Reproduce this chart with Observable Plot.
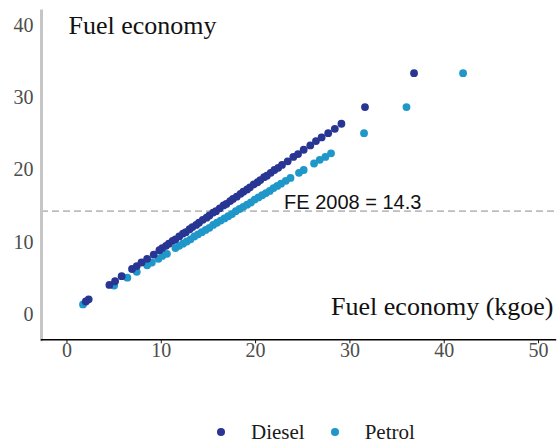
<!DOCTYPE html>
<html>
<head>
<meta charset="utf-8">
<script src="https://cdn.jsdelivr.net/npm/d3@7"></script>
<script src="https://cdn.jsdelivr.net/npm/@observablehq/plot@0.6"></script>
<style>
  body { margin: 0; background: #fff; }
  #wrap { position: relative; width: 560px; height: 443px; overflow: hidden; background: #fff; }
  #legend { position: absolute; left: 217px; top: 422px; height: 20px; display: flex; align-items: center;
            font-family: "Liberation Serif", serif; font-size: 21px; line-height: 20px; color: #1a1a1a; }
  #legend .dot { display: inline-block; width: 8px; height: 8px; border-radius: 50%; margin-right: 26px; }
  #legend .lab { margin-right: 26px; }
</style>
</head>
<body>
<div id="wrap"></div>
<script>
// ---- data ----
const fuels = ["Diesel", "Petrol"];
const fuelColors = ["#283593", "#1f97c9"];

const dieselKgoe = [2.0, 2.3, 4.5, 5.1, 5.8, 6.9, 7.4, 7.9, 8.5, 9.2, 9.8, 10.1, 10.5, 10.8, 11.2, 11.5, 11.9, 12.3, 12.6, 13.0,
  13.3, 13.7, 14.0, 14.4, 14.8, 15.1, 15.5, 15.8, 16.2, 16.6, 16.9, 17.3, 17.6, 18.0, 18.4, 18.7, 19.1, 19.4, 19.8, 20.2,
  20.5, 20.9, 21.2, 21.6, 22.0, 22.4, 22.8, 23.4, 24.0, 24.5, 25.1, 25.8, 26.4, 27.0, 27.7, 28.4, 29.1, 31.6, 36.8];
const dieselFE = [1.8, 2.1, 4.1, 4.6, 5.3, 6.3, 6.7, 7.2, 7.7, 8.3, 8.9, 9.2, 9.5, 9.8, 10.2, 10.4, 10.8, 11.2, 11.4, 11.8,
  12.1, 12.4, 12.7, 13.1, 13.4, 13.7, 14.1, 14.3, 14.7, 15.1, 15.3, 15.7, 16.0, 16.3, 16.7, 17.0, 17.3, 17.6, 18.0, 18.3,
  18.6, 19.0, 19.2, 19.6, 20.0, 20.3, 20.7, 21.2, 21.8, 22.2, 22.8, 23.4, 24.0, 24.5, 25.1, 25.7, 26.4, 28.7, 33.4];

const petrolKgoe = [1.7, 5.0, 6.4, 7.4, 8.5, 9.0, 9.7, 10.1, 10.6, 11.5, 11.9, 12.3, 12.7, 13.1, 13.5, 13.9, 14.3, 14.7, 15.1,
  15.5, 15.9, 16.3, 16.7, 17.1, 17.5, 17.9, 18.3, 18.7, 19.1, 19.5, 19.9, 20.3, 20.7, 21.1, 21.5, 21.9, 22.3, 22.7, 23.2,
  23.7, 24.6, 25.1, 26.2, 26.8, 27.4, 28.0, 31.5, 36.0, 42.0];
const petrolFE = [1.4, 4.0, 5.1, 5.9, 6.8, 7.2, 7.7, 8.1, 8.4, 9.2, 9.5, 9.8, 10.1, 10.4, 10.8, 11.1, 11.4, 11.7, 12.0,
  12.4, 12.7, 13.0, 13.3, 13.6, 13.9, 14.3, 14.6, 14.9, 15.2, 15.5, 15.9, 16.2, 16.5, 16.8, 17.1, 17.5, 17.8, 18.1, 18.5,
  18.9, 19.6, 20.0, 20.9, 21.4, 21.8, 22.3, 25.1, 28.7, 33.4];

const xTicks = [0, 10, 20, 30, 40, 50];
const yTicks = [0, 10, 20, 30, 40];
const fe2008 = 14.3;
const fe2008LabelX = 30.3;
const fe2008Label = "FE 2008 = 14.3";
const yTitle = "Fuel economy";
const xTitle = "Fuel economy (kgoe)";

// ---- table for the library ----
const petrol = petrolKgoe.map((k, i) => ({fuel: "Petrol", kgoe: k, fe: petrolFE[i]}));
const diesel = dieselKgoe.map((k, i) => ({fuel: "Diesel", kgoe: k, fe: dieselFE[i]}));
const points = [...petrol, ...diesel];

const H = 415;
const chart = Plot.plot({
  width: 560,
  height: H,
  marginLeft: 41,
  marginRight: 5,
  marginTop: 10.5,
  marginBottom: H - 339.3,
  style: {fontFamily: "'Liberation Serif', serif", fontSize: "20px", background: "#fff"},
  x: {domain: [-2.7, 51.8]},
  y: {domain: [-3.5, 42]},
  color: {domain: fuels, range: fuelColors},
  marks: [
    Plot.ruleY([fe2008], {stroke: "#bdbdbd", strokeWidth: 1.8, strokeDasharray: "7,4"}),
    Plot.frame({anchor: "left", stroke: "#c6c6c6", strokeWidth: 3}),
    Plot.frame({anchor: "bottom", stroke: "#000", strokeWidth: 1.4}),
    Plot.axisY({ticks: yTicks, tickSize: 0, tickPadding: 8, label: null, fill: "#4d4d4d", stroke: "#4d4d4d", fontSize: 20}),
    Plot.axisX({ticks: xTicks, tickSize: 4, tickPadding: -1, label: null, fill: "#4d4d4d", stroke: "#111", fontSize: 20}),
    Plot.dot(points, {x: "kgoe", y: "fe", fill: "fuel", r: 3.9}),
    Plot.text([fe2008Label], {x: fe2008LabelX, y: fe2008, text: d => d, textAnchor: "middle", lineAnchor: "middle",
      dy: -8.5, fontFamily: "'Liberation Sans', Arial, sans-serif", fontSize: 20, fill: "#111"}),
    Plot.text([yTitle], {frameAnchor: "top-left", text: d => d, textAnchor: "start", lineAnchor: "middle",
      dx: 27, dy: 14.2, fontSize: 26, fill: "#111"}),
    Plot.text([xTitle], {frameAnchor: "bottom-right", text: d => d, textAnchor: "end", lineAnchor: "middle",
      dx: -2, dy: -33.6, fontSize: 26, fill: "#111"})
  ]
});
const wrap = document.getElementById("wrap");
wrap.appendChild(chart);

const legend = document.createElement("div");
legend.id = "legend";
fuels.forEach((f, i) => {
  const d = document.createElement("span");
  d.className = "dot";
  d.style.background = fuelColors[i];
  const l = document.createElement("span");
  l.className = "lab";
  l.textContent = f;
  legend.appendChild(d);
  legend.appendChild(l);
});
wrap.appendChild(legend);
</script>
</body>
</html>
